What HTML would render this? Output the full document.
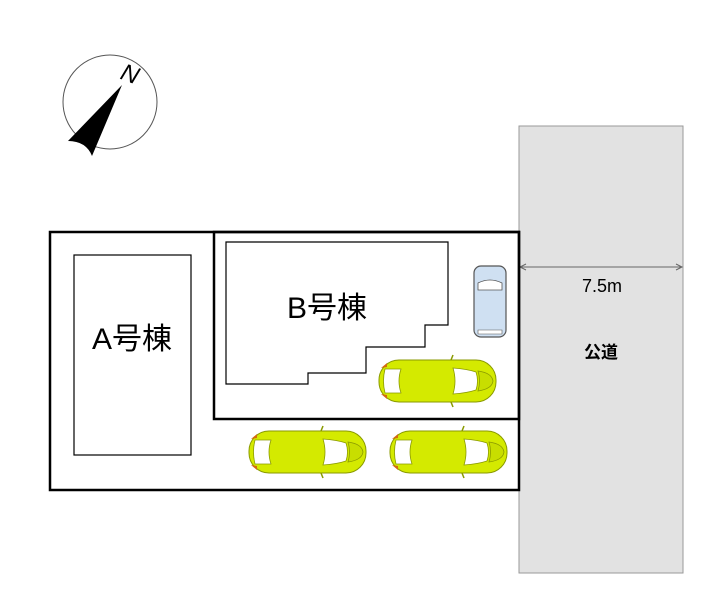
<!DOCTYPE html>
<html><head><meta charset="utf-8"><style>
html,body{margin:0;padding:0;background:#fff;width:716px;height:600px;overflow:hidden}
svg{display:block}
text{font-family:"Liberation Sans","Noto Sans CJK JP",sans-serif}
</style></head><body>
<svg width="716" height="600" viewBox="0 0 716 600" xmlns="http://www.w3.org/2000/svg">
<defs>
<g id="car">
<rect x="0" y="0" width="117" height="42" rx="20" fill="#d4ea00" stroke="#8a9a00" stroke-width="1"/>
<path d="M6 9 Q3 21 6 33 L22 33 Q18 21 22 9 Z" fill="#fff" stroke="#8a9a00" stroke-width="0.8"/>
<path d="M74 8 Q88 9 97 12 Q100 21 97 30 Q88 33 74 34 Q78 21 74 8 Z" fill="#fff" stroke="#8a9a00" stroke-width="0.8"/>
<path d="M99 11 Q113 13 114 21 Q113 29 99 31 Q102 21 99 11Z" fill="#c8de00" stroke="#8a9a00" stroke-width="0.8"/>
<path d="M2 8 L8 3 L8 7Z M2 34 L8 39 L8 35Z" fill="#d26a10"/>
<line x1="72" y1="0" x2="74" y2="-5" stroke="#8a9a00" stroke-width="1.5"/>
<line x1="72" y1="42" x2="74" y2="47" stroke="#8a9a00" stroke-width="1.5"/>
</g>
</defs>
<!-- compass -->
<circle cx="110" cy="102" r="47" fill="#fff" stroke="#555" stroke-width="1"/>
<path d="M122 85 L68 141 Q86 141 92 156 Z" fill="#000"/>
<path d="M69 142 Q86 143 91 156" fill="none" stroke="#fff" stroke-width="1.5"/>
<text x="130" y="82" font-family="Liberation Serif,serif" font-style="italic" font-size="24" text-anchor="middle" transform="rotate(20 130 74)">N</text>
<!-- road -->
<rect x="519" y="126" width="164" height="447" fill="#e2e2e2" stroke="#999" stroke-width="1"/>
<line x1="520" y1="267" x2="682" y2="267" stroke="#666" stroke-width="1"/>
<path d="M526 264 L520 267 L526 270 M676 264 L682 267 L676 270" fill="none" stroke="#666"/>
<text x="602" y="292" font-size="18" text-anchor="middle">7.5m</text>
<text x="601" y="358" font-size="17" font-weight="bold" text-anchor="middle">公道</text>
<!-- lot -->
<rect x="50" y="232" width="469" height="258" fill="#fff" stroke="#000" stroke-width="2.5"/>
<rect x="214" y="232" width="305" height="187" fill="none" stroke="#000" stroke-width="2.5"/>
<rect x="74" y="255" width="117" height="200" fill="#fff" stroke="#000" stroke-width="1.2"/>
<text x="132" y="349" font-size="30" text-anchor="middle">A号棟</text>
<polygon points="226,242 448,242 448,325 425,325 425,347 366,347 366,373 308,373 308,384 226,384" fill="#fff" stroke="#000" stroke-width="1.2"/>
<text x="327" y="318" font-size="30" text-anchor="middle">B号棟</text>
<use href="#car" x="379" y="360"/>
<use href="#car" x="249" y="431"/>
<use href="#car" x="390" y="431"/>
<!-- blue car -->
<rect x="474" y="266" width="32" height="71" rx="7" fill="#cfe0f2" stroke="#555" stroke-width="1.2"/>
<path d="M478 283 Q490 277 502 283 L502 290 L478 290 Z" fill="#fff" stroke="#555" stroke-width="0.8"/>
<path d="M478 330 L502 330 L502 334 L478 334Z" fill="#fff" stroke="#555" stroke-width="0.6"/>
</svg>
</body></html>
